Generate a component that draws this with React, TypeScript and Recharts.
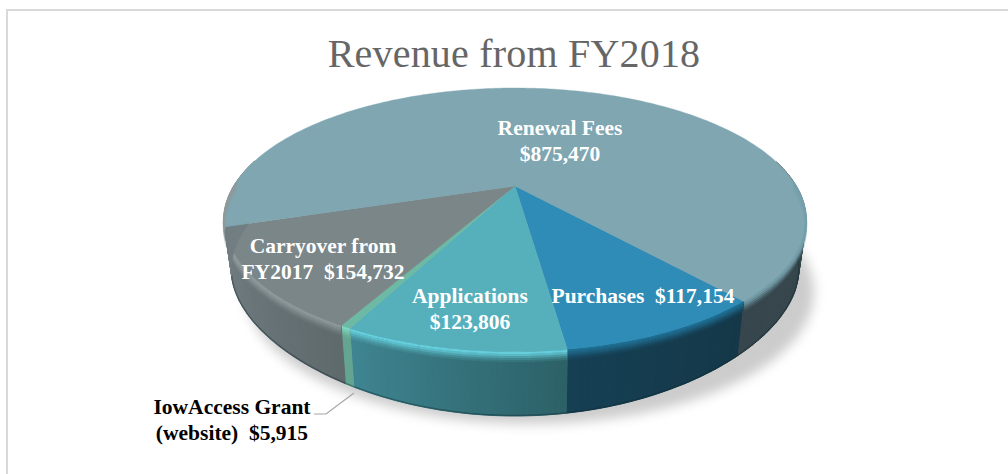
import React from "react";
import { PieChart, Pie } from "recharts";

const categories = ["Purchases", "Applications", "IowAccess Grant", "Carryover from FY2017", "Renewal Fees"];
const revenue = [117154, 123806, 5915, 154732, 875470];
const labelLines = [
  ["Purchases  $117,154"],
  ["Applications", "$123,806"],
  ["IowAccess Grant", "(website)  $5,915"],
  ["Carryover from", "FY2017  $154,732"],
  ["Renewal Fees", "$875,470"],
];
const chartData = categories.map((name, i) => ({ name, value: revenue[i] }));

const W = 1008;
const H = 474;
const APEX_X = 515;
const APEX_Y = 186;
const K = -0.2576;
const A = 281.2;
const B = 123.2;
const BASE_SCALE = 0.975;

const styles: any[] = [
  { top: "#2e8cb6", rim: "#1f6f93", wallA: "#163f54", wallB: "#143848" },
  { top: "#55b0bc", rim: "#68d3e0", wallA: "#3f8592", wallB: "#2c6167" },
  { top: "#6cb9a4", rim: "#7fd8c0", wallA: "#64a592", wallB: "#64a592" },
  { top: "#7a8688", rim: "#8f9a9c", wallA: "#727e82", wallB: "#5f6a6d" },
  { top: "#7fa6b1", rim: "#76a0ab", wallA: "#36464c", wallB: "#36464c", leftWall: "#727e82", leftRim: "#8f9a9c" },
];
const labelStyles = [
  { x: 643, y: 303, fill: "#ffffff" },
  { x: 470, y: 303, fill: "#ffffff" },
  { x: 232, y: 414, fill: "#000000" },
  { x: 323, y: 253, fill: "#ffffff" },
  { x: 560, y: 135, fill: "#ffffff" },
];

const project = (theta: number) => {
  const u = Math.cos((theta * Math.PI) / 180);
  const v = Math.sin((theta * Math.PI) / 180);
  const w = 1 + K * v;
  return { X: (A * u) / w, Y: (B * v) / w, v };
};
const topPt = (p: any) => [APEX_X + p.X, APEX_Y + p.Y];
const basePt = (p: any) => {
  const d = 49 + 15 * Math.pow(Math.max(0, p.v), 4);
  return [APEX_X + p.X * BASE_SCALE, APEX_Y + p.Y + d];
};
const hex = (c: string) => [1, 3, 5].map((i) => parseInt(c.slice(i, i + 2), 16));
const mix = (a: string, b: string, t: number) => {
  const x = hex(a);
  const y = hex(b);
  return `rgb(${x.map((n, i) => Math.round(n + (y[i] - n) * t)).join(",")})`;
};
const fmt = (pts: number[][]) => pts.map((p) => `${p[0].toFixed(1)},${p[1].toFixed(1)}`).join(" ");
const sinD = (t: number) => Math.sin((t * Math.PI) / 180);

const Slice3D = (props: any) => {
  const { startAngle, endAngle, index } = props;
  const st = styles[index] || styles[0];
  const t0 = -startAngle;
  const t1 = -endAngle;
  const n = Math.max(2, Math.ceil(t1 - t0));
  const thetas = Array.from({ length: n + 1 }, (_, i) => t0 + ((t1 - t0) * i) / n);
  const rim = thetas.map((t) => topPt(project(t)));
  const walls: any[] = [];
  for (let i = 0; i < n; i++) {
    const a = thetas[i];
    const b = thetas[i + 1];
    if (sinD(a) <= -0.2 && sinD(b) <= -0.2) continue;
    const pa = project(a);
    const pb = project(b);
    const frac = (a - t0) / (t1 - t0);
    const f = st.leftWall && a < 220 ? st.leftWall : mix(st.wallB, st.wallA, frac);
    walls.push(
      <polygon key={i} points={fmt([topPt(pa), topPt(pb), basePt(pb), basePt(pa)])} fill={f} stroke={f} strokeWidth={1} />
    );
  }
  const frontRuns: { pts: number[][]; color: string }[] = [];
  let run: number[][] = [];
  let runColor = st.rim;
  thetas.forEach((t) => {
    const c = st.leftRim && t < 220 ? st.leftRim : st.rim;
    if (sinD(t) > -0.05) {
      if (!run.length) runColor = c;
      run.push(topPt(project(t)));
    } else if (run.length) {
      frontRuns.push({ pts: run, color: runColor });
      run = [];
    }
  });
  if (run.length) frontRuns.push({ pts: run, color: runColor });
  const baseLine = thetas
    .filter((t) => sinD(t) > 0.1 && !(st.leftWall && t < 220))
    .map((t) => basePt(project(t)));
  const bands = [
    { dy: 1, o: 0.95 },
    { dy: 3, o: 0.75 },
    { dy: 5, o: 0.5 },
    { dy: 7, o: 0.28 },
    { dy: 9, o: 0.12 },
  ];
  return (
    <g>
      {walls}
      {baseLine.length > 1 && (
        <polyline points={fmt(baseLine.map((p) => [p[0], p[1] - 0.5]))} fill="none" stroke="#102a33" strokeOpacity={0.4} strokeWidth={1.5} />
      )}
      <polygon points={fmt([[APEX_X, APEX_Y], ...rim])} fill={st.top} stroke={st.top} strokeWidth={0.4} />
      {frontRuns.map((r, ri) =>
        bands.map((b, bi) => (
          <polyline
            key={`${ri}-${bi}`}
            points={fmt(r.pts.map((p) => [p[0], p[1] + b.dy]))}
            fill="none"
            stroke={r.color}
            strokeOpacity={b.o}
            strokeWidth={2.2}
          />
        ))
      )}
    </g>
  );
};

const SliceLabel = (props: any) => {
  const { index } = props;
  const ls = labelStyles[index];
  const lines = labelLines[index];
  return (
    <g>
      {index === 2 && <polyline points="314,414 326,414 354,393" fill="none" stroke="#a6a6a6" strokeWidth={1.2} />}
      <text
        x={ls.x}
        y={ls.y}
        textAnchor="middle"
        fill={ls.fill}
        fontFamily="'Liberation Serif', serif"
        fontWeight="bold"
        fontSize={21.5}
      >
        {lines.map((l, i) => (
          <tspan key={i} x={ls.x} y={ls.y + i * 25.5} style={{ whiteSpace: "pre" }}>
            {l}
          </tspan>
        ))}
      </text>
    </g>
  );
};

export default function App() {
  return (
    <div style={{ position: "absolute", left: 0, top: 0, width: W, height: H, background: "#fff", overflow: "hidden" }}>
      <PieChart width={W} height={H} margin={{ top: 0, right: 0, bottom: 0, left: 0 }}>
        <defs>
          <filter id="soft" x="-20%" y="-20%" width="140%" height="140%">
            <feGaussianBlur stdDeviation="6" />
          </filter>
        </defs>
        <rect x={7} y={10} width={W + 20} height={H + 20} fill="#fff" stroke="#d9d9d9" strokeWidth={2} />
        <text
          x={514}
          y={67}
          textAnchor="middle"
          fill="#666666"
          fontFamily="'Liberation Serif', serif"
          fontSize={40}
          letterSpacing={0.2}
        >
          Revenue from FY2018
        </text>
        <ellipse cx={530} cy={292} rx={284} ry={132} fill="#000" fillOpacity={0.2} filter="url(#soft)" />
        <Pie
          data={chartData}
          dataKey="value"
          nameKey="name"
          cx={APEX_X}
          cy={APEX_Y}
          outerRadius={120}
          startAngle={-49}
          endAngle={-409}
          paddingAngle={0}
          stroke="none"
          shape={Slice3D}
          label={SliceLabel}
          labelLine={false}
          isAnimationActive={false}
        />
      </PieChart>
    </div>
  );
}
